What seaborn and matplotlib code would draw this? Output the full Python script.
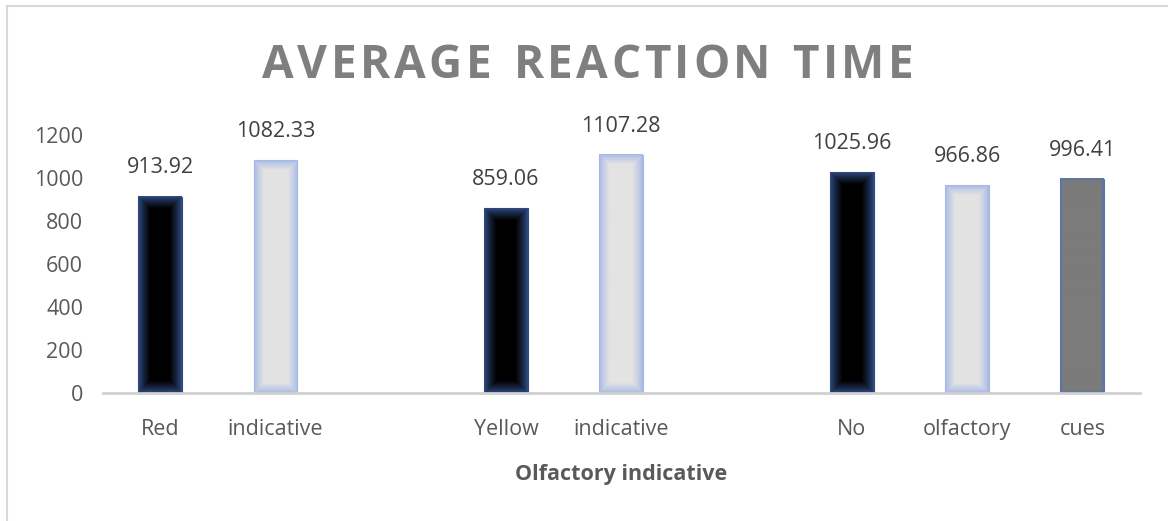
import numpy as np
import pandas as pd
import matplotlib
matplotlib.use('Agg')
import matplotlib.pyplot as plt
import matplotlib.colors as mcolors
from matplotlib.patches import Rectangle
import seaborn as sns

# slots on the x axis (empty keys leave the gaps between groups)
keys = ['c0', 'c1', 'g1', 'c3', 'c4', 'g2', 'c6', 'c7', 'c8']
tick_labels = ['Red', 'indicative', '', 'Yellow', 'indicative', '', 'No', 'olfactory', 'cues']
values = [913.92, 1082.33, None, 859.06, 1107.28, None, 1025.96, 966.86, 996.41]
bar_style = ['dark', 'light', None, 'dark', 'light', None, 'dark', 'light', 'gray']
title = 'AVERAGE REACTION TIME'

styles = {
    # base/edge colour, centre colour, glow width in px
    'dark': ('#2f4b82', '#000000', 12),
    'light': ('#a6b9e6', '#e3e3e3', 10),
    'gray': ('#5a74ad', '#7b7b7b', 3),
}

df = pd.DataFrame({'key': keys, 'value': values, 'style': bar_style}).dropna()
palette = {k: styles[s][0] for k, s in zip(df['key'], df['style'])}

sns.set_style('white')
plt.rcParams['font.family'] = ['Open Sans', 'DejaVu Sans']

W, H = 1168, 521
fig = plt.figure(figsize=(W / 100, H / 100), dpi=100)
ax = fig.add_axes([102.5 / W, 128 / H, (1140 - 102.5) / W, (393 - 135) / H])

sns.barplot(data=df, x='key', y='value', hue='key', order=keys, palette=palette,
            width=0.38, legend=False, ax=ax, saturation=1, edgecolor='none')

ax.set_xlim(-0.5, len(keys) - 0.5)
ax.set_ylim(0, 1200)
ax.set_yticks(range(0, 1201, 200))

# gradient fill inside each bar
fig.canvas.draw()
for patch in list(ax.patches):
    x0, y0 = patch.get_x(), patch.get_y()
    w, h = patch.get_width(), patch.get_height()
    if h <= 0 or np.isnan(h):
        continue
    i = int(round(x0 + w / 2))
    edge, centre, glow = styles[bar_style[i]]
    p0 = ax.transData.transform((x0, y0))
    p1 = ax.transData.transform((x0 + w, y0 + h))
    nx = max(int(round(p1[0] - p0[0])), 2)
    ny = max(int(round(p1[1] - p0[1])), 2)
    xx = np.arange(nx)
    yy = np.arange(ny)
    dx = np.minimum(xx, nx - 1 - xx)[None, :]
    dy = np.minimum(yy, ny - 1 - yy)[:, None]
    d = np.minimum(dx, dy).astype(float)
    t = np.clip(d / glow, 0, 1) ** 0.8
    e = np.array(mcolors.to_rgb(edge))
    c = np.array(mcolors.to_rgb(centre))
    img = e[None, None, :] * (1 - t[..., None]) + c[None, None, :] * t[..., None]
    ax.imshow(img, extent=(x0, x0 + w, y0, y0 + h), aspect='auto',
              interpolation='bilinear', zorder=3)
    patch.set_edgecolor(edge)
    patch.set_linewidth(0.8)

ax.set_xlim(-0.5, len(keys) - 0.5)
ax.set_ylim(0, 1200)

fs = 15.5
for cont in ax.containers:
    ax.bar_label(cont, fmt='%.2f', padding=13, fontsize=fs, color='#404040', zorder=5)

ax.set_xticks(range(len(keys)))
ax.set_xticklabels(tick_labels)
ax.tick_params(axis='x', length=0, pad=19, labelsize=fs, labelcolor='#595959')
ax.tick_params(axis='y', length=0, pad=14, labelsize=fs, labelcolor='#595959')

for side in ['top', 'right', 'left']:
    ax.spines[side].set_visible(False)
ax.spines['bottom'].set_color('#d0d0d0')
ax.spines['bottom'].set_linewidth(2)
ax.spines['bottom'].set_zorder(4)

ax.set_xlabel('Olfactory indicative', fontsize=fs, fontweight='bold',
              color='#595959', labelpad=17)
ax.set_ylabel('')

# letter-spaced title, placed character by character
renderer = fig.canvas.get_renderer()
tfs = 33
tracking = 3.5  # extra px between letters
widths = []
for ch in title:
    t = fig.text(0, 0, ch if ch != ' ' else 'I', fontsize=tfs, fontweight='bold')
    widths.append(t.get_window_extent(renderer).width)
    t.remove()
total = sum(widths) + tracking * (len(title) - 1)
xpos = 588 - total / 2
for ch, wpx in zip(title, widths):
    if ch != ' ':
        fig.text(xpos / W, 1 - 66 / H, ch, ha='left', va='center',
                 fontsize=tfs, fontweight='bold', color='#7f7f7f')
    xpos += wpx + tracking

# chart frame (only the top and left edges show in the crop)
fig.add_artist(Rectangle((7 / W, -0.2), 2, 1.2 - 6 / H, transform=fig.transFigure,
                         fill=False, edgecolor='#d9d9d9', linewidth=1.5))

fig.savefig('out.png', dpi=100, facecolor='white')
